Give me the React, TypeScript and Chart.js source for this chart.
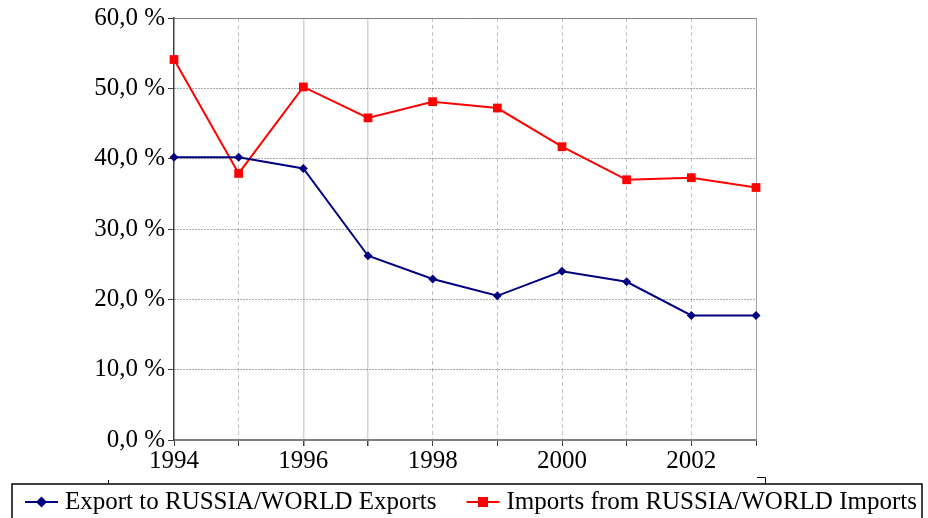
import React, { useEffect, useRef } from "react";
import { Chart, registerables } from "chart.js";

Chart.register(...registerables);

// Years on the horizontal axis
const years = [1994, 1995, 1996, 1997, 1998, 1999, 2000, 2001, 2002, 2003];
// Share of exports to Russia in world exports, %
const exportShare = [40.2, 40.2, 38.6, 26.2, 22.9, 20.5, 24.0, 22.5, 17.7, 17.7];
// Share of imports from Russia in world imports, %
const importShare = [54.1, 37.9, 50.2, 45.8, 48.1, 47.2, 41.7, 37.0, 37.3, 35.9];
// Years that get a printed tick label
const labelledYears = [1994, 1996, 1998, 2000, 2002];

const seriesNames = ["Export to RUSSIA/WORLD Exports", "Imports from RUSSIA/WORLD Imports"];

const FONT = '"Liberation Serif", "Times New Roman", serif';
const NAVY = "#000080";
const RED = "#ff0000";

const fmtPct = (v: number) => v.toFixed(1).replace(".", ",") + " %";

function drawMarker(ctx: CanvasRenderingContext2D, style: string, x: number, y: number, color: string) {
  ctx.fillStyle = color;
  ctx.beginPath();
  if (style === "rectRot") {
    const r = 5.5;
    ctx.moveTo(x, y - r);
    ctx.lineTo(x + r, y);
    ctx.lineTo(x, y + r);
    ctx.lineTo(x - r, y);
    ctx.closePath();
  } else {
    const s = 5;
    ctx.rect(x - s, y - s, 2 * s, 2 * s);
  }
  ctx.fill();
}

// Boxed legend along the bottom edge, with line + marker swatches
const boxedLegend = {
  id: "boxedLegend",
  afterDraw(chart: any) {
    const { ctx } = chart;
    const top = 484;
    const cy = 502;
    ctx.save();
    ctx.strokeStyle = "#000";
    ctx.lineWidth = 1.5;
    ctx.strokeRect(12, top, 910, 60);
    // small frame marks above the box
    ctx.lineWidth = 1;
    ctx.beginPath();
    ctx.moveTo(108.5, top - 4);
    ctx.lineTo(108.5, top);
    ctx.moveTo(757, 477.5);
    ctx.lineTo(765.5, 477.5);
    ctx.lineTo(765.5, top);
    ctx.stroke();

    ctx.font = `25px ${FONT}`;
    ctx.textBaseline = "middle";
    let x = 25;
    chart.data.datasets.forEach((ds: any) => {
      ctx.strokeStyle = ds.borderColor;
      ctx.lineWidth = 2;
      ctx.beginPath();
      ctx.moveTo(x, cy);
      ctx.lineTo(x + 33, cy);
      ctx.stroke();
      drawMarker(ctx, ds.pointStyle, x + 16.5, cy, ds.borderColor);
      ctx.fillStyle = "#000";
      ctx.fillText(ds.label, x + 40, cy);
      x += 40 + ctx.measureText(ds.label).width + 30;
    });
    ctx.restore();
  },
};

export default function App() {
  const ref = useRef<HTMLCanvasElement | null>(null);

  useEffect(() => {
    if (!ref.current) return;
    Chart.defaults.color = "#000";
    const last = 9;
    const chart = new Chart(ref.current, {
      type: "line",
      data: {
        datasets: [
          {
            label: seriesNames[0],
            data: years.map((y, i) => ({ x: y, y: exportShare[i] })),
            borderColor: NAVY,
            backgroundColor: NAVY,
            borderWidth: 2,
            pointStyle: "rectRot",
            pointRadius: 4.5,
            pointBorderWidth: 0,
            tension: 0,
            clip: false,
          },
          {
            label: seriesNames[1],
            data: years.map((y, i) => ({ x: y, y: importShare[i] })),
            borderColor: RED,
            backgroundColor: RED,
            borderWidth: 2,
            pointStyle: "rect",
            pointRadius: 6.2,
            pointBorderWidth: 0,
            tension: 0,
            clip: false,
          },
        ],
      },
      options: {
        animation: false,
        responsive: false,
        layout: { padding: { top: 18, bottom: 36, left: 0, right: 0 } },
        plugins: { legend: { display: false }, tooltip: { enabled: false } },
        scales: {
          x: {
            type: "linear",
            min: 1994,
            max: 2003,
            afterFit: (s: any) => {
              s.height = 46;
            },
            ticks: {
              stepSize: 1,
              autoSkip: false,
              maxRotation: 0,
              padding: 2,
              font: { family: FONT, size: 25, lineHeight: 1.1 },
              color: "#000",
              callback: (v: any) => (labelledYears.includes(Number(v)) ? String(v) : ""),
            },
            grid: {
              tickLength: 6,
              tickColor: "#404040",
              lineWidth: (c: any) => (c.index === 2 || c.index === 3 ? 1.5 : 1),
              color: (c: any) => {
                if (c.index === 0) return "rgba(0,0,0,0)";
                if (c.index === last) return "#a0a0a0";
                if (c.index === 2 || c.index === 3) return "#d4d4d4";
                return "#c4c4c4";
              },
            },
            border: {
              color: "#808080",
              width: 2,
              dash: (c: any) => {
                if (c.index === undefined || c.index === last || c.index === 2 || c.index === 3) return [];
                return [4, 3];
              },
            },
          },
          y: {
            min: 0,
            max: 60,
            afterFit: (s: any) => {
              s.width = 174;
            },
            ticks: {
              stepSize: 10,
              padding: 3,
              font: { family: FONT, size: 25 },
              color: "#000",
              callback: (v: any) => fmtPct(Number(v)),
            },
            grid: {
              tickLength: 6,
              tickColor: "#404040",
              color: (c: any) => {
                if (c.index === 0) return "rgba(0,0,0,0)";
                if (c.index === 6) return "#808080";
                return "#555555";
              },
            },
            border: {
              color: "#404040",
              width: 1.5,
              dash: (c: any) => (c.index === undefined || c.index === 6 ? [] : [1, 2]),
            },
          },
          right: {
            position: "right",
            display: true,
            afterFit: (s: any) => {
              s.width = 172;
            },
            ticks: { display: false },
            grid: { drawOnChartArea: false, drawTicks: false },
            border: { display: false },
          },
        },
      },
      plugins: [boxedLegend],
    } as any);
    return () => chart.destroy();
  }, []);

  return (
    <div style={{ position: "absolute", left: 0, top: 0, width: 928, height: 522 }}>
      <canvas ref={ref} width={928} height={522} />
    </div>
  );
}
